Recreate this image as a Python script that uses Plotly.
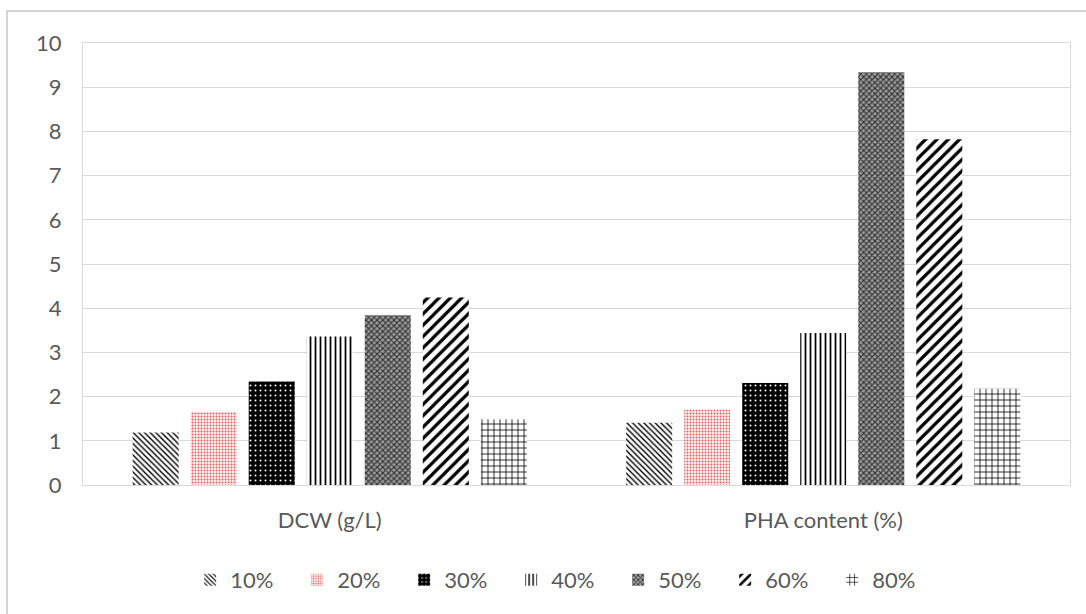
import plotly.graph_objects as go

# Categories and series
categories = ["DCW (g/L)", "PHA content (%)"]
series_names = ["10%", "20%", "30%", "40%", "50%", "60%", "80%"]
dcw_values = [1.19, 1.65, 2.34, 3.36, 3.84, 4.24, 1.49]
pha_values = [1.41, 1.71, 2.31, 3.44, 9.34, 7.82, 2.18]
y_ticks = list(range(0, 11))

# Fill patterns for each series (shape, fg, bg, size, solidity)
patterns = [
    dict(shape="\\", fgcolor="#000000", bgcolor="#ffffff", size=4, solidity=0.35),
    dict(shape=".", fgcolor="#e06060", bgcolor="#fdf2f2", size=3, solidity=0.35),
    dict(shape=".", fgcolor="#ffffff", bgcolor="#000000", size=5, solidity=0.12),
    dict(shape="|", fgcolor="#000000", bgcolor="#ffffff", size=5, solidity=0.35),
    dict(shape="x", fgcolor="#2a2a2a", bgcolor="#9a9a9a", size=4, solidity=0.45),
    dict(shape="/", fgcolor="#000000", bgcolor="#ffffff", size=8, solidity=0.4),
    dict(shape="+", fgcolor="#000000", bgcolor="#ffffff", size=6, solidity=0.25),
]

FONT = "Lato, 'Open Sans', sans-serif"
GRID = "#d9d9d9"
TEXT = "#595959"

fig = go.Figure()
for i, name in enumerate(series_names):
    fig.add_trace(go.Bar(
        name=name,
        x=categories,
        y=[dcw_values[i], pha_values[i]],
        marker=dict(
            color=patterns[i]["bgcolor"],
            line=dict(width=0),
            pattern=dict(
                shape=patterns[i]["shape"],
                fgcolor=patterns[i]["fgcolor"],
                bgcolor=patterns[i]["bgcolor"],
                size=patterns[i]["size"],
                solidity=patterns[i]["solidity"],
                fillmode="replace",
            ),
        ),
    ))

# Outer chart frame
fig.add_shape(
    type="rect", xref="paper", yref="paper",
    x0=-0.077, x1=1.03, y0=-0.32, y1=1.0724,
    line=dict(color="#d4d4d4", width=2), fillcolor="rgba(0,0,0,0)",
    layer="below",
)

fig.update_layout(
    width=1086, height=614,
    margin=dict(l=83, r=16, t=43, b=129),
    paper_bgcolor="white", plot_bgcolor="white",
    barmode="group", bargap=0.177, bargroupgap=0.207,
    font=dict(family=FONT, color=TEXT, size=21),
    showlegend=True,
    legend=dict(
        orientation="h", x=0.488, xanchor="center", y=-0.215, yanchor="middle",
        font=dict(size=22, color=TEXT, family=FONT),
        itemwidth=30, entrywidth=62, entrywidthmode="pixels",
        bgcolor="rgba(0,0,0,0)",
    ),
    xaxis=dict(
        showgrid=False, showline=True, linecolor=GRID, linewidth=1, mirror=True,
        tickfont=dict(size=22, color=TEXT, family=FONT), ticks="",
        ticklabelstandoff=16,
    ),
    yaxis=dict(
        range=[0, 10], tickvals=y_ticks, showgrid=True, gridcolor=GRID, gridwidth=1,
        showline=True, linecolor=GRID, linewidth=1, mirror=True, zeroline=False,
        tickfont=dict(size=22, color=TEXT, family=FONT), ticks="",
        ticklabelstandoff=16,
    ),
)

fig.write_html("out.html")
